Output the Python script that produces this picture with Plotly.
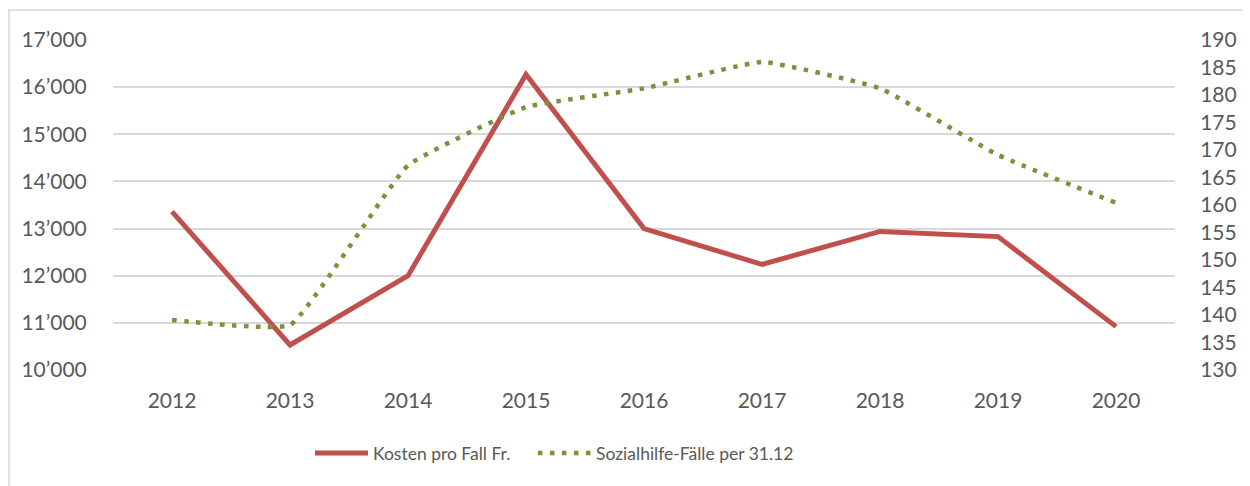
import plotly.graph_objects as go

years = ["2012", "2013", "2014", "2015", "2016", "2017", "2018", "2019", "2020"]
kosten = [13360, 10530, 12000, 16270, 13000, 12240, 12940, 12830, 10920]
faelle = [139.1, 138.2, 167.2, 177.8, 181.2, 186.0, 181.2, 169.1, 160.4]

left_vals = [10000, 11000, 12000, 13000, 14000, 15000, 16000, 17000]
left_text = ["10’000", "11’000", "12’000", "13’000", "14’000", "15’000", "16’000", "17’000"]
right_vals = list(range(130, 191, 5))
right_text = [str(v) for v in right_vals]

font_family = "Lato, 'Open Sans', sans-serif"
txt_color = "#595959"

fig = go.Figure()
fig.add_trace(go.Scatter(
    x=years, y=kosten, name="Kosten pro Fall Fr.", mode="lines",
    line=dict(color="#C0504D", width=5),
    yaxis="y", legend="legend",
))
fig.add_trace(go.Scatter(
    x=years, y=faelle, name="Sozialhilfe-Fälle per 31.12", mode="lines",
    line=dict(color="#77933C", width=4.5, dash="4.5px,7.5px", shape="spline", smoothing=0.35),
    yaxis="y2", legend="legend2",
))

# page has an 8px body margin; offset everything so the picture lands on target pixels
OFF = 8
W, H = 1250 - OFF, 486 - OFF
ml, mr, mt, mb = 113 - OFF, 75, 40 - OFF, 116
pw, ph = W - ml - mr, H - mt - mb

def px2paper_x(x):
    return (x - OFF - ml) / pw

def px2paper_y(y):
    return (H - mb - (y - OFF)) / ph

legend_common = dict(
    orientation="h", xanchor="left", yanchor="middle",
    y=px2paper_y(453),
    font=dict(size=17.5, color=txt_color),
    itemwidth=53, bgcolor="rgba(0,0,0,0)",
)

fig.update_layout(
    width=W, height=H,
    margin=dict(l=ml, r=mr, t=mt, b=mb, pad=0),
    paper_bgcolor="white", plot_bgcolor="white",
    font=dict(family=font_family, size=21, color=txt_color),
    showlegend=True,
    legend=dict(x=px2paper_x(310), **legend_common),
    legend2=dict(x=px2paper_x(533), **legend_common),
    xaxis=dict(
        type="category", range=[-0.5, 8.5],
        showgrid=False, zeroline=False, showline=False,
        ticks="outside", ticklen=12, tickcolor="rgba(0,0,0,0)",
        tickfont=dict(size=21, color=txt_color),
    ),
    yaxis=dict(
        range=[10000, 17000], tickvals=left_vals, ticktext=left_text,
        showgrid=True, gridcolor="#D9D9D9", gridwidth=1.5,
        zeroline=False, showline=False,
        ticks="outside", ticklen=21, tickcolor="rgba(0,0,0,0)",
        tickfont=dict(size=21, color=txt_color),
    ),
    yaxis2=dict(
        range=[130, 190], tickvals=right_vals, ticktext=right_text,
        overlaying="y", side="right",
        showgrid=False, zeroline=False, showline=False,
        ticks="outside", ticklen=20, tickcolor="rgba(0,0,0,0)",
        tickfont=dict(size=21, color=txt_color),
    ),
    shapes=[dict(
        type="rect", xref="paper", yref="paper",
        x0=px2paper_x(9), x1=px2paper_x(1248),
        y0=px2paper_y(500), y1=px2paper_y(10),
        line=dict(color="#D9D9D9", width=1.5), fillcolor="rgba(0,0,0,0)",
        layer="below",
    )],
)

fig.write_html("out.html")
